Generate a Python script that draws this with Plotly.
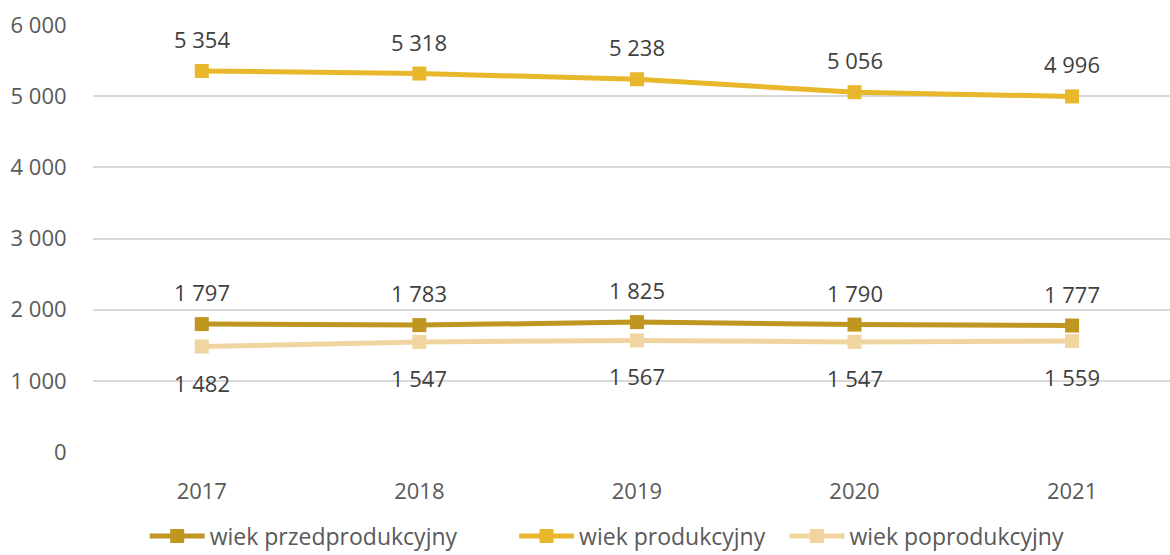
import plotly.graph_objects as go

years = ["2017", "2018", "2019", "2020", "2021"]
przed = [1797, 1783, 1825, 1790, 1777]
prod = [5354, 5318, 5238, 5056, 4996]
po = [1482, 1547, 1567, 1547, 1559]

names = ["wiek przedprodukcyjny", "wiek produkcyjny", "wiek poprodukcyjny"]
colors = ["#BF9620", "#E8B72B", "#F0D5A0"]
shifts = [32, 32, -36]
legend_ids = ["legend", "legend2", "legend3"]
legend_x = [0.048, 0.391, 0.642]

def fmt(v):
    return f"{v:,}".replace(",", " ")

FONT = "Open Sans"
fig = go.Figure()
annotations = []
for name, vals, col, sh, lid in zip(names, [przed, prod, po], colors, shifts, legend_ids):
    fig.add_trace(go.Scatter(
        x=years, y=vals, name=name, mode="lines+markers",
        line=dict(color=col, width=5),
        marker=dict(symbol="square", size=14, color=col),
        cliponaxis=False, legend=lid,
    ))
    for i, yv in enumerate(vals):
        annotations.append(dict(
            x=i, y=yv, xref="x", yref="y", text=fmt(yv), showarrow=False, yshift=sh,
            font=dict(size=22, color="#404040", family=FONT),
            xanchor="center", yanchor="middle",
        ))

legend_common = dict(orientation="h", xanchor="left", yref="container", y=0.034,
                     yanchor="middle", font=dict(size=23, color="#595959"),
                     itemwidth=55, borderwidth=0, bgcolor="rgba(0,0,0,0)")

fig.update_layout(
    width=1170, height=555,
    margin=dict(l=93, r=0, t=25, b=103),
    plot_bgcolor="white", paper_bgcolor="white",
    separators=", ",
    font=dict(family=FONT, size=22, color="#595959"),
    annotations=annotations,
    xaxis=dict(type="category", range=[-0.5, 4.45], showgrid=False,
               showline=False, ticks="outside", ticklen=20, tickcolor="white",
               tickfont=dict(size=22, color="#595959"), automargin=False),
    yaxis=dict(range=[0, 6000], dtick=1000, tickformat=",d",
               gridcolor="#D9D9D9", gridwidth=2, zeroline=False,
               ticks="outside", ticklen=21, tickcolor="white",
               tickfont=dict(size=22, color="#595959"), automargin=False),
    legend=dict(x=legend_x[0], **legend_common),
    legend2=dict(x=legend_x[1], **legend_common),
    legend3=dict(x=legend_x[2], **legend_common),
    showlegend=True,
)

fig.write_html("out.html", config={"displayModeBar": False},
               post_script="document.body.style.margin='0';")
